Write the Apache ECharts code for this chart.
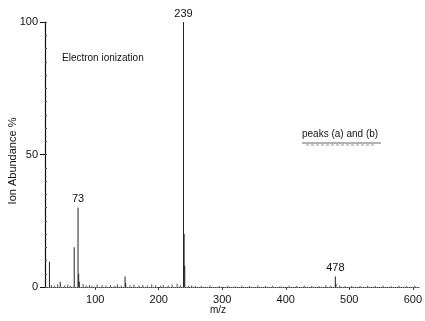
<!DOCTYPE html>
<html>
<head>
<meta charset="utf-8">
<script src="https://cdn.jsdelivr.net/npm/echarts@6/dist/echarts.min.js"></script>
<style>
  html, body { margin: 0; padding: 0; background: #fff; }
  #chart { width: 425px; height: 321px; }
</style>
</head>
<body>
<div id="chart"></div>
<script>
// main peaks (m/z, ion abundance %)
const peakMz = [28, 45, 67, 73, 74, 75, 147, 148, 239, 240, 241, 478, 479];
const peakAbundance = [9.5, 2, 15, 30, 5, 2, 4, 1.5, 100, 20, 8, 4, 1.2];
const labeledMz = [73, 239, 478];

// low-level baseline noise
const noiseMz = [31, 36, 41, 52, 57, 61, 81, 86, 91, 95, 103, 111, 117, 124, 131, 135, 141,
  155, 161, 169, 175, 182, 189, 195, 203, 207, 215, 221, 229, 234, 247, 252, 258, 267, 281,
  295, 309, 320, 331, 343, 356, 368, 379, 391, 405, 417, 429, 441, 452, 463, 471, 485, 493,
  504, 517, 529, 541, 553, 566, 578, 590, 603];
const noiseAbundance = [0.8, 0.5, 1.0, 0.6, 0.9, 0.5, 1.1, 0.6, 0.8, 0.5, 0.9, 0.7, 0.6,
  0.8, 0.5, 1.0, 0.6, 0.7, 0.9, 0.5, 0.8, 0.6, 1.0, 0.7, 0.5, 0.8, 0.6, 0.9, 1.2, 0.7, 0.5,
  0.6, 0.4, 0.5, 0.6, 0.4, 0.5, 0.3, 0.5, 0.4, 0.6, 0.4, 0.5, 0.3, 0.5, 0.4, 0.6, 0.5, 0.4,
  0.7, 0.5, 0.6, 0.4, 0.5, 0.4, 0.6, 0.4, 0.5, 0.3, 0.5, 0.4, 0.5];

const xTicks = [100, 200, 300, 400, 500, 600];
const yTicks = [0, 50, 100];

const font = 'Liberation Sans, Arial, sans-serif';

const chart = echarts.init(document.getElementById('chart'));

const peakData = peakMz.map((m, i) => {
  const item = { value: [m, peakAbundance[i]] };
  if (labeledMz.includes(m)) {
    item.label = { show: true, position: 'top', distance: 3, formatter: String(m) };
  }
  return item;
});

chart.setOption({
  animation: false,
  backgroundColor: '#fff',
  grid: { left: 45, right: 3, top: 22, bottom: 34 },
  xAxis: {
    type: 'value',
    min: 21,
    max: 610,
    splitLine: { show: false },
    axisLine: { lineStyle: { color: '#444', width: 1, type: 'dotted' } },
    axisTick: { show: true, length: 3, customValues: xTicks, lineStyle: { color: '#444' } },
    axisLabel: { customValues: xTicks, color: '#111', fontSize: 11, fontFamily: font, margin: 7 }
  },
  yAxis: [
    {
      type: 'value',
      min: 0,
      max: 100,
      splitLine: { show: false },
      axisLine: { lineStyle: { color: '#111', width: 1.2 } },
      axisTick: { length: 5, customValues: yTicks, lineStyle: { color: '#111' } },
      axisLabel: { customValues: yTicks, color: '#111', fontSize: 11, fontFamily: font, margin: 7 }
    },
    {
      // small inward minor ticks along the abundance axis
      type: 'value',
      min: 0,
      max: 100,
      interval: 5,
      position: 'left',
      splitLine: { show: false },
      axisLine: { show: false },
      axisTick: { inside: true, length: 2, lineStyle: { color: '#555' } },
      axisLabel: { show: false }
    }
  ],
  graphic: [
    {
      type: 'text', x: 13, y: 161, rotation: Math.PI / 2,
      style: { text: 'Ion Abundance %', fill: '#111', font: '11px ' + font, align: 'center', verticalAlign: 'middle' }
    },
    { type: 'text', left: 62, top: 53, style: { text: 'Electron ionization', fill: '#111', font: '10px ' + font } },
    { type: 'text', left: 302, top: 129, style: { text: 'peaks (a) and (b)', fill: '#111', font: '10px ' + font } },
    { type: 'line', shape: { x1: 302, y1: 143, x2: 381, y2: 143 }, style: { stroke: '#666', lineWidth: 1 } },
    { type: 'line', shape: { x1: 306, y1: 145, x2: 376, y2: 145 }, style: { stroke: '#999', lineWidth: 1, lineDash: [3, 2] } },
    { type: 'text', left: 210, top: 305, style: { text: 'm/z', fill: '#111', font: '10px ' + font } }
  ],
  series: [
    {
      type: 'bar',
      barWidth: 1,
      itemStyle: { color: '#222' },
      label: { color: '#111', fontSize: 11, fontFamily: font },
      data: peakData
    },
    {
      type: 'bar',
      barWidth: 1,
      barGap: '-100%',
      itemStyle: { color: '#555' },
      data: noiseMz.map((m, i) => [m, noiseAbundance[i]])
    }
  ]
});
</script>
</body>
</html>
